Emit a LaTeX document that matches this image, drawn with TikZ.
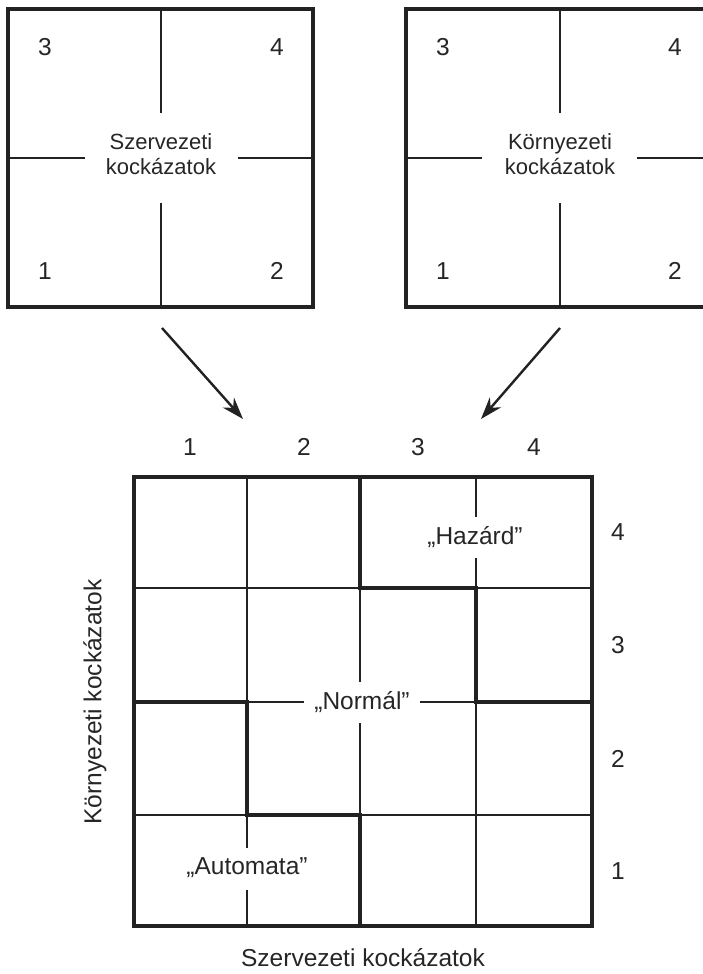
\documentclass[tikz,border=0pt]{standalone}
\usepackage{fontspec}
\setmainfont{Liberation Sans}
\usetikzlibrary{arrows.meta}
\definecolor{ink}{HTML}{222222}
\definecolor{txt}{HTML}{262626}
\tikzset{
  thin line/.style={draw=ink, line width=1.3pt},
  thick line/.style={draw=ink, line width=3.2pt, line cap=rect},
  frame/.style={draw=ink, line width=3.2pt},
  smalltxt/.style={text=txt, font=\fontsize{22}{25}\selectfont, inner sep=0pt},
  bigtxt/.style={text=txt, font=\fontsize{24.5}{28}\selectfont, inner sep=0pt},
  flow/.style={draw=ink, line width=2.4pt, -{Stealth[length=22pt,width=15pt]}}
}
\begin{document}
\begin{tikzpicture}[x=1pt,y=-1pt]
\useasboundingbox (0,0) rectangle (703,974);
\clip (0,0) rectangle (703,974);
\fill[white] (0,0) rectangle (703,974);

% ---------- top-left square ----------
\draw[thin line] (8,158) -- (85,158) (238,158) -- (313,158);
\draw[thin line] (161,9) -- (161,113) (161,203) -- (161,307);
\draw[frame] (8,9) rectangle (313,307);
\node[bigtxt] (tl3) at (45,47) {3};
\node[bigtxt] (tl4) at (277,47) {4};
\node[bigtxt] (tl1) at (45,271) {1};
\node[bigtxt] (tl2) at (277,271) {2};
\node[smalltxt, align=center] (tlt) at (161,154) {Szervezeti\\kockázatok};

% ---------- top-right square ----------
\draw[thin line] (406,158) -- (482,158) (637,158) -- (714,158);
\draw[thin line] (560,9) -- (560,113) (560,203) -- (560,307);
\draw[frame] (406,9) rectangle (714,307);
\node[bigtxt] (tr3) at (443,47) {3};
\node[bigtxt] (tr4) at (675,47) {4};
\node[bigtxt] (tr1) at (443,271) {1};
\node[bigtxt] (tr2) at (675,271) {2};
\node[smalltxt, align=center] (trt) at (560,154) {Környezeti\\kockázatok};

% ---------- arrows ----------
\coordinate (a1s) at (162,328);
\coordinate (a1e) at (243,419);
\coordinate (a2s) at (560,328);
\coordinate (a2e) at (481,419);
\draw[flow] (a1s) -- (a1e);
\draw[flow] (a2s) -- (a2e);

% ---------- column / row numbers ----------
\node[bigtxt] (c1) at (190,447) {1};
\node[bigtxt] (c2) at (304,447) {2};
\node[bigtxt] (c3) at (418,447) {3};
\node[bigtxt] (c4) at (534,447) {4};
\node[bigtxt] (r4) at (618,532) {4};
\node[bigtxt] (r3) at (618,645) {3};
\node[bigtxt] (r2) at (618,759) {2};
\node[bigtxt] (r1) at (618,871) {1};

% ---------- big grid: thin lines ----------
\draw[thin line] (247,477) -- (247,702) (247,815) -- (247,848) (247,890) -- (247,926);
\draw[thin line] (360,588) -- (360,682) (360,723) -- (360,815);
\draw[thin line] (476,477) -- (476,517) (476,558) -- (476,588) (476,702) -- (476,926);
\draw[thin line] (134,588) -- (360,588) (476,588) -- (592,588);
\draw[thin line] (247,702) -- (304,702) (420,702) -- (476,702);
\draw[thin line] (134,815) -- (247,815) (360,815) -- (592,815);

% ---------- big grid: thick region borders ----------
\draw[thick line] (360,477) -- (360,588) -- (476,588) -- (476,702) -- (592,702);
\draw[thick line] (134,702) -- (247,702) -- (247,815) -- (360,815) -- (360,926);
\draw[frame] (134,477) rectangle (592,926);

% ---------- region labels ----------
\node[bigtxt] (haz) at (475,537) {„Hazárd”};
\node[bigtxt] (nor) at (362,702) {„Normál”};
\node[bigtxt] (aut) at (247,868) {„Automata”};

% ---------- axis labels ----------
\node[bigtxt] (xl) at (363,958) {Szervezeti kockázatok};
\node[bigtxt, rotate=90] (yl) at (95,702) {Környezeti kockázatok};
\end{tikzpicture}
\end{document}
